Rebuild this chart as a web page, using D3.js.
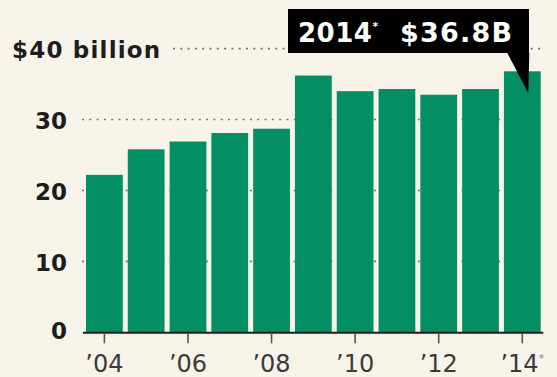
<!DOCTYPE html>
<html>
<head>
<meta charset="utf-8">
<script src="https://cdn.jsdelivr.net/npm/d3@7"></script>
<style>
  html, body { margin: 0; padding: 0; background: #f8f3e8; }
  svg { display: block; }
</style>
</head>
<body>
<svg id="chart" width="557" height="377"></svg>
<script>
const years = [2004, 2005, 2006, 2007, 2008, 2009, 2010, 2011, 2012, 2013, 2014];
const revenue = [22.2, 25.8, 26.9, 28.1, 28.7, 36.2, 34.0, 34.3, 33.5, 34.3, 36.8];
const yTicks = [0, 10, 20, 30, 40];
const xTickYears = [2004, 2006, 2008, 2010, 2012, 2014];
const calloutYear = "2014";
const calloutValue = "$36.8B";

const svg = d3.select("#chart");

const x = d3.scaleBand()
  .domain(years)
  .range([83.5, 543.2])
  .paddingInner(0.12)
  .paddingOuter(0.06);

const y = d3.scaleLinear()
  .domain([0, 40])
  .range([332.3, 48.6]);

// Gridlines (dotted)
svg.append("g")
  .selectAll("line")
  .data(yTicks.filter(d => d > 0))
  .join("line")
  .attr("x1", d => d === 40 ? 173 : 82)
  .attr("x2", 541)
  .attr("y1", d => y(d))
  .attr("y2", d => y(d))
  .attr("stroke", "#7a756c")
  .attr("stroke-width", 1.6)
  .attr("stroke-dasharray", "2,5.3");

// Bars
svg.append("g")
  .selectAll("rect")
  .data(years)
  .join("rect")
  .attr("x", d => x(d))
  .attr("y", (d, i) => y(revenue[i]))
  .attr("width", x.bandwidth())
  .attr("height", (d, i) => y(0) - y(revenue[i]))
  .attr("fill", "#038f63");

// Baseline
svg.append("line")
  .attr("x1", 83).attr("x2", 543.3)
  .attr("y1", y(0) + 0.5).attr("y2", y(0) + 0.5)
  .attr("stroke", "#1f1f1f")
  .attr("stroke-width", 2);

// Y labels
svg.append("g")
  .attr("font-family", "DejaVu Sans, sans-serif")
  .attr("font-weight", "bold")
  .attr("font-size", 23)
  .attr("fill", "#1d1d1d")
  .selectAll("text")
  .data(yTicks)
  .join("text")
  .attr("x", d => d === 40 ? 12 : 67)
  .attr("y", d => y(d) + (d === 0 ? -2 : 1))
  .attr("dy", "0.36em")
  .attr("text-anchor", d => d === 40 ? "start" : "end")
  .attr("letter-spacing", d => d === 40 ? 1.2 : 0)
  .text(d => d === 40 ? "$40 billion" : d);

// X ticks and labels
const xAxis = svg.append("g");
xAxis.selectAll("line")
  .data(xTickYears)
  .join("line")
  .attr("x1", d => x(d) + x.bandwidth() / 2)
  .attr("x2", d => x(d) + x.bandwidth() / 2)
  .attr("y1", y(0) + 1)
  .attr("y2", y(0) + 11)
  .attr("stroke", "#555")
  .attr("stroke-width", 1.6);

const xText = xAxis.selectAll("text")
  .data(xTickYears)
  .join("text")
  .attr("x", d => x(d) + x.bandwidth() / 2)
  .attr("y", 372)
  .attr("text-anchor", "middle")
  .attr("font-family", "DejaVu Sans, sans-serif")
  .attr("font-size", 24)
  .attr("fill", "#3a3a3a");

xText.append("tspan").text(d => "\u2019" + String(d).slice(2));
xText.filter(d => d === 2014)
  .append("tspan")
  .attr("font-size", 11)
  .attr("dy", -10)
  .attr("fill", "#888")
  .text("*");

// Callout
const bx = x(2014) + x.bandwidth() / 2;
const callout = svg.append("g");
callout.append("path")
  .attr("d", `M288,9 H529 V53 H${bx + 7} L${bx + 6},${y(revenue[10]) + 22} L${bx - 15},53 H288 Z`)
  .attr("fill", "#000");

const ct = callout.append("text")
  .attr("y", 42)
  .attr("font-family", "DejaVu Sans, sans-serif")
  .attr("font-weight", "bold")
  .attr("font-size", 26)
  .attr("fill", "#fff");
ct.append("tspan").attr("x", 298).attr("letter-spacing", 0.5).text(calloutYear);
ct.append("tspan").attr("font-size", 11).attr("dy", -12).text("*");
ct.append("tspan").attr("x", 400).attr("dy", 12).attr("font-size", 27).attr("letter-spacing", 1.2).text(calloutValue);
</script>
</body>
</html>
